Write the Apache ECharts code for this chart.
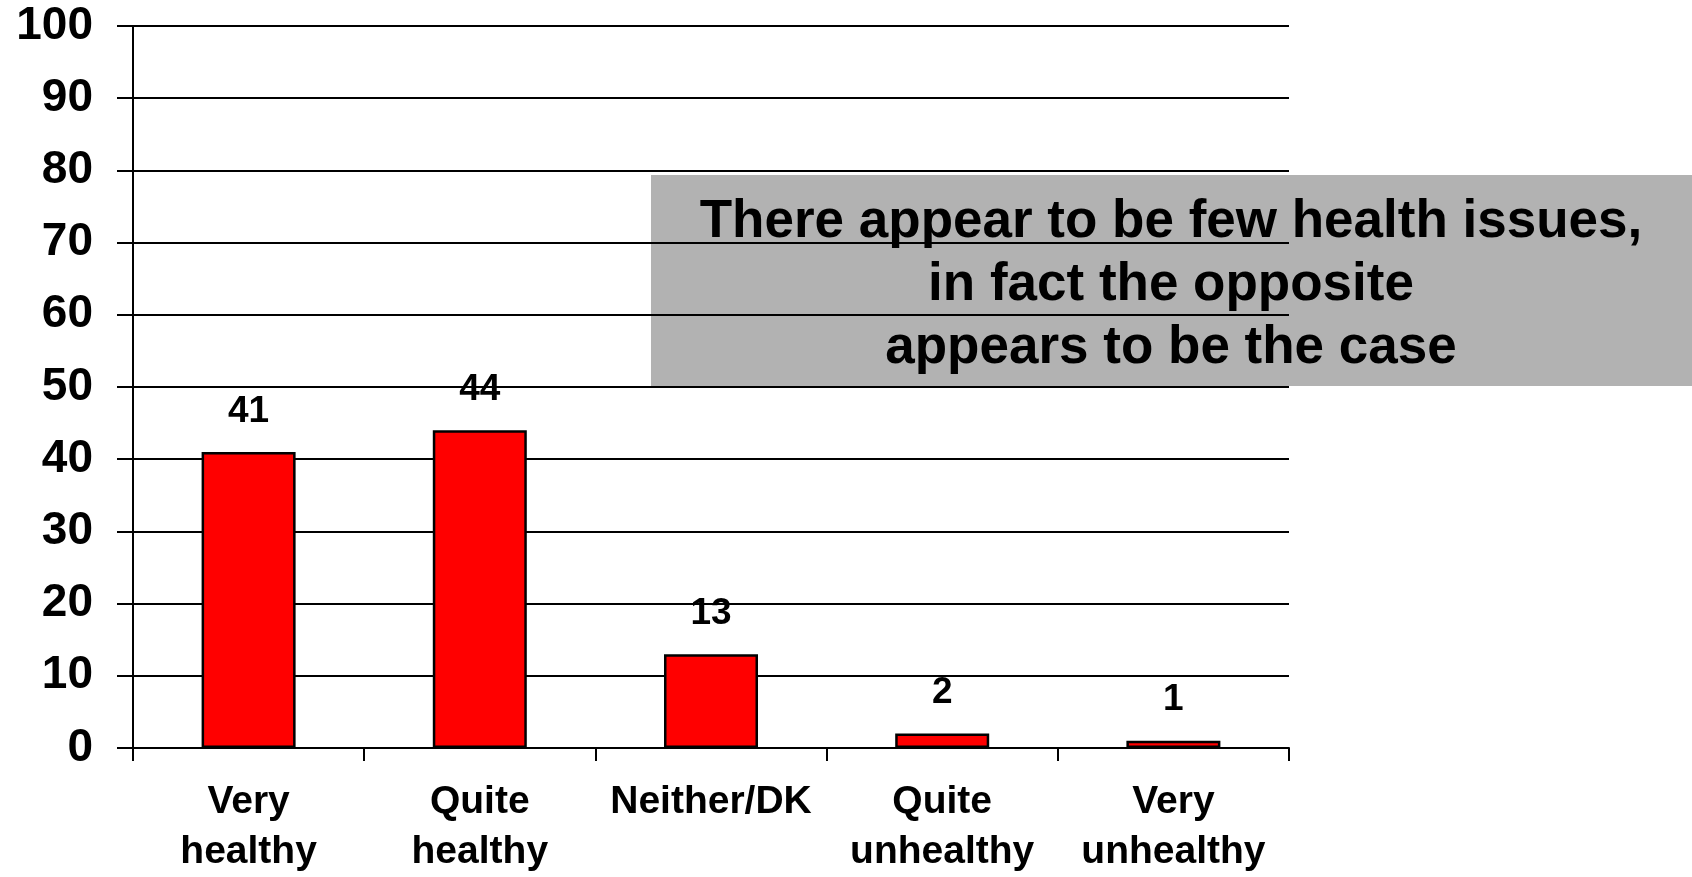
<!DOCTYPE html>
<html>
<head>
<meta charset="utf-8">
<script src="https://cdn.jsdelivr.net/npm/echarts@6/dist/echarts.min.js"></script>
<style>
  html, body { margin: 0; padding: 0; background: #ffffff; }
  #chart { width: 1692px; height: 877px; }
</style>
</head>
<body>
<div id="chart"></div>
<script>
// Self-rated health, % of respondents
const categories = ['Very\nhealthy', 'Quite\nhealthy', 'Neither/DK', 'Quite\nunhealthy', 'Very\nunhealthy'];
const values = [41, 44, 13, 2, 1];
const yTicks = { min: 0, max: 100, interval: 10 };
const noteText = 'There appear to be few health issues,\nin fact the opposite\nappears to be the case';

const FONT = '"Liberation Sans", Arial, sans-serif';

const chart = echarts.init(document.getElementById('chart'), null, { renderer: 'canvas' });

chart.setOption({
  animation: false,
  backgroundColor: '#ffffff',
  grid: { left: 133, right: 403, top: 26, bottom: 122, containLabel: false },
  xAxis: {
    type: 'category',
    data: categories,
    axisLine: { show: true, lineStyle: { color: '#000', width: 2 } },
    axisTick: { show: true, length: 13, alignWithLabel: false, lineStyle: { color: '#000', width: 2 } },
    axisLabel: {
      color: '#000', fontFamily: FONT, fontWeight: 'bold', fontSize: 39,
      lineHeight: 50, margin: 29, interval: 0
    },
    splitLine: { show: false }
  },
  yAxis: {
    type: 'value',
    min: yTicks.min, max: yTicks.max, interval: yTicks.interval,
    axisLine: { show: true, lineStyle: { color: '#000', width: 2 } },
    axisTick: { show: true, length: 16, lineStyle: { color: '#000', width: 2 } },
    axisLabel: { color: '#000', fontFamily: FONT, fontWeight: 'bold', fontSize: 46, margin: 40 },
    splitLine: { show: true, lineStyle: { color: '#000', width: 2 } }
  },
  series: [{
    type: 'bar',
    data: values,
    barWidth: 94,
    itemStyle: { color: '#ff0000', borderColor: '#000', borderWidth: 2.5 },
    label: {
      show: true, position: 'top', distance: 22,
      color: '#000', fontFamily: FONT, fontWeight: 'bold', fontSize: 37
    },
    z: 3
  }],
  graphic: [{
    type: 'group',
    left: 651, top: 175,
    z: 100,
    children: [{
      type: 'rect',
      shape: { x: 0, y: 0, width: 1041, height: 211 },
      style: { fill: '#b2b2b2' }
    }, {
      type: 'text',
      x: 520, y: 110,
      style: {
        text: noteText,
        font: 'bold 53px ' + FONT,
        fill: '#000',
        align: 'center',
        verticalAlign: 'middle',
        lineHeight: 63
      }
    }]
  }]
});
</script>
</body>
</html>
